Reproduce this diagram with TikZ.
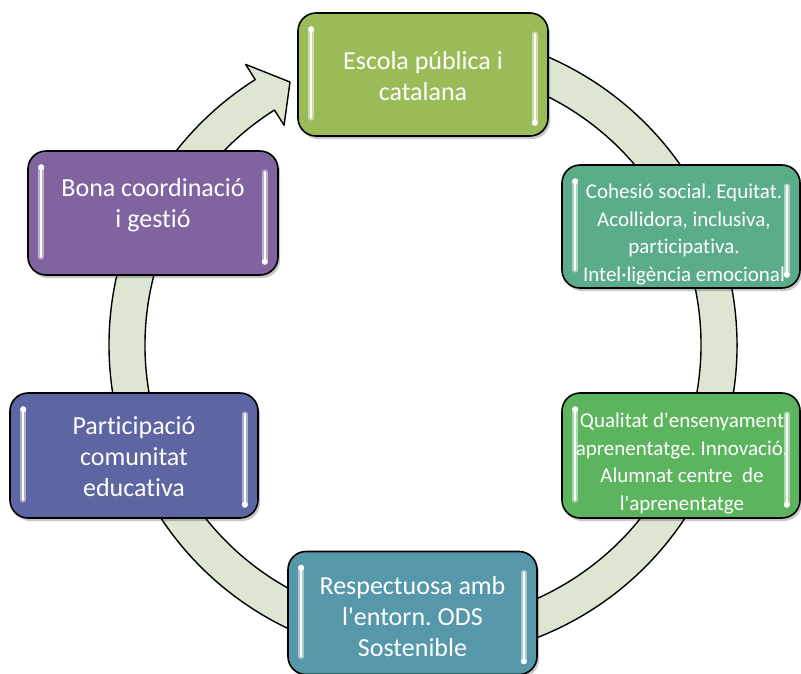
\documentclass[tikz,border=0pt]{standalone}
\usepackage{fontspec}
\setmainfont{Carlito}[Ligatures={NoCommon}]
\usetikzlibrary{calc,shadows}
\definecolor{cA}{RGB}{155,187,89}
\definecolor{cB}{RGB}{91,172,136}
\definecolor{cC}{RGB}{93,180,95}
\definecolor{cD}{RGB}{86,152,170}
\definecolor{cE}{RGB}{94,101,163}
\definecolor{cF}{RGB}{128,100,160}
\definecolor{ringc}{RGB}{220,230,210}
\tikzset{
  box/.style={draw=black, line width=1.6pt, rounded corners=18pt, fill=#1,
    minimum width=250pt, minimum height=123pt, inner sep=0pt,
    drop shadow={shadow xshift=2pt, shadow yshift=-3pt, opacity=0.22, fill=black}},
  bigtext/.style={text=white, align=center, inner sep=0pt, font=\fontsize{26}{31}\selectfont},
  smalltext/.style={text=white, align=center, inner sep=0pt, font=\fontsize{21}{27.5}\selectfont},
  ringshape/.style={draw=black, line width=1.4pt, fill=ringc, line join=round},
  glowline/.style={line width=5.5pt, line cap=round, draw=#1!35!white, opacity=0.75},
  coreline/.style={line width=2pt, line cap=round, draw=white},
}
\newcommand\boxgloss[2]{%
  \draw[glowline=#2] ($(#1.north west)+(14,17)$) -- ($(#1.south west)+(14,-19)$);
  \draw[coreline] ($(#1.north west)+(14,17)$) -- ($(#1.south west)+(14,-19)$);
  \draw[glowline=#2] ($(#1.north east)+(-14,22)$) -- ($(#1.south east)+(-14,-14)$);
  \draw[coreline] ($(#1.north east)+(-14,22)$) -- ($(#1.south east)+(-14,-14)$);
  \fill[white] ($(#1.north west)+(14,17)$) circle (3);
  \fill[white] ($(#1.south east)+(-14,-14)$) circle (3);
}
\begin{document}
\frenchspacing
\begin{tikzpicture}[x=1pt,y=-1pt]
\useasboundingbox (0,0) rectangle (801,673);
\coordinate (C) at (423,345);
\coordinate (tip) at (290,82);
\draw[ringshape] ($(C)+(-100:314)$) arc[start angle=-100, end angle=237.7, radius=314]
  -- ($(C)+(237.7:332)$) -- (tip) -- ($(C)+(237.7:260)$) -- ($(C)+(237.7:278)$)
  arc[start angle=237.7, end angle=-100, radius=278] -- cycle;

\node[box=cA] (b1) at (423,74.5) {};
\node[box=cB, minimum width=238pt] (b2) at (681,226.5) {};
\node[box=cC, minimum width=238pt, minimum height=125pt] (b3) at (681,455.5) {};
\node[box=cD, minimum width=249pt] (b4) at (412.5,613) {};
\node[box=cE, minimum width=248pt, minimum height=125pt] (b5) at (134,455.5) {};
\node[box=cF, minimum height=124pt] (b6) at (153,213) {};

\boxgloss{b1}{cA}
\boxgloss{b2}{cB}
\boxgloss{b3}{cC}
\boxgloss{b4}{cD}
\boxgloss{b5}{cE}
\boxgloss{b6}{cF}

\node[bigtext] (t1) at ($(b1.center)+(0,2)$) {Escola pública i\\catalana};
\node[smalltext] (t2) at ($(b2.center)+(3,8)$) {Cohesió social. Equitat.\\Acollidora, inclusiva,\\participativa.\\Intel·ligència emocional};
\node[smalltext] (t3) at ($(b3.center)+(1,8)$) {Qualitat d\textquotesingle ensenyament\\aprenentatge. Innovació.\\Alumnat centre~ de\\l\textquotesingle aprenentatge};
\node[bigtext] (t4) at ($(b4.center)+(0,4)$) {Respectuosa amb\\l\textquotesingle entorn. ODS\\Sostenible};
\node[bigtext] (t5) at ($(b5.center)+(0,1)$) {Participació\\comunitat\\educativa};
\node[bigtext] (t6) at ($(b6.center)+(0,-8)$) {Bona coordinació\\i gestió};
\end{tikzpicture}
\end{document}
